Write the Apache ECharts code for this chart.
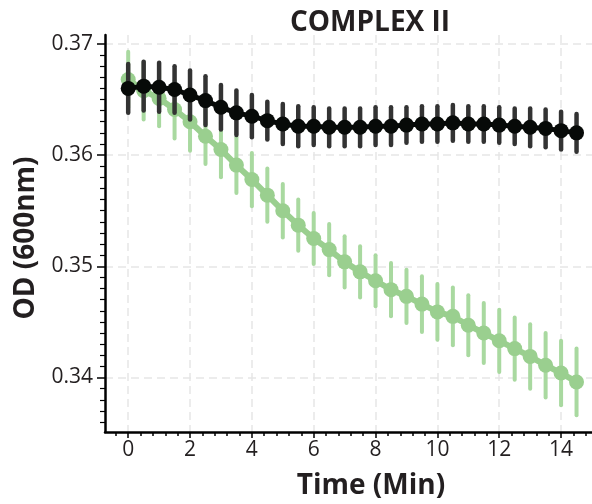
<!DOCTYPE html>
<html>
<head>
<meta charset="utf-8">
<script src="https://cdn.jsdelivr.net/npm/echarts@6/dist/echarts.min.js"></script>
<style>
  html, body { margin: 0; padding: 0; background: #fff; }
  #chart { width: 592px; height: 504px; }
</style>
</head>
<body>
<div id="chart"></div>
<script>
// time points (min)
const times = [0, 0.5, 1, 1.5, 2, 2.5, 3, 3.5, 4, 4.5, 5, 5.5, 6, 6.5, 7,
  7.5, 8, 8.5, 9, 9.5, 10, 10.5, 11, 11.5, 12, 12.5, 13, 13.5, 14, 14.5];

// black series: mean OD and error
const blackMean = [0.3660, 0.3662, 0.3661, 0.3659, 0.3654, 0.3649, 0.3643, 0.3638, 0.3635, 0.3631,
  0.3628, 0.3626, 0.3626, 0.3625, 0.3625, 0.3625, 0.3626, 0.3626, 0.3627, 0.3628,
  0.3628, 0.3629, 0.3628, 0.3628, 0.3627, 0.3626, 0.3625, 0.3624, 0.3622, 0.3620];
const blackErr = [0.0022, 0.0022, 0.0022, 0.0021, 0.0022, 0.0022, 0.0020, 0.0020, 0.0019, 0.0017,
  0.0018, 0.0018, 0.0017, 0.0017, 0.0017, 0.0017, 0.0017, 0.0017, 0.0016, 0.0016,
  0.0016, 0.0016, 0.0016, 0.0016, 0.0016, 0.0016, 0.0017, 0.0017, 0.0017, 0.0017];

// green series: mean OD and error
const greenMean = [0.3668, 0.3658, 0.3651, 0.3641, 0.3630, 0.3617, 0.3605, 0.3591, 0.3578, 0.3564,
  0.3550, 0.3537, 0.3525, 0.3515, 0.3504, 0.3495, 0.3487, 0.3479, 0.3473, 0.3466,
  0.3459, 0.3455, 0.3447, 0.3440, 0.3433, 0.3426, 0.3419, 0.3411, 0.3404, 0.3396];
const greenErr = [0.0025, 0.0026, 0.0025, 0.0026, 0.0026, 0.0025, 0.0025, 0.0025, 0.0024, 0.0024,
  0.0024, 0.0023, 0.0023, 0.0023, 0.0023, 0.0023, 0.0023, 0.0024, 0.0024, 0.0025,
  0.0025, 0.0026, 0.0027, 0.0027, 0.0028, 0.0028, 0.0029, 0.0029, 0.0029, 0.0030];

// tick labels
const xTicks = [0, 2, 4, 6, 8, 10, 12, 14];
const yTicks = [0.34, 0.35, 0.36, 0.37];

const xMinor = [];
for (let v = -0.4; v < 15; v += 0.4) {
  const r = Math.round(v * 10) / 10;
  if (Math.abs(r / 2 - Math.round(r / 2)) > 1e-6) xMinor.push(r);
}
const yMinor = [];
for (let i = 336; i <= 370; i++) {
  if (i % 10 !== 0) yMinor.push(i / 1000);
}

const ink = '#231f20';
const font = '"Open Sans", "Noto Sans", sans-serif';
const xRange = { min: -0.75, max: 15 };
const yRange = { min: 0.3351, max: 0.3708 };

const chart = echarts.init(document.getElementById('chart'));

function errorBars(color, width) {
  return function (params, api) {
    const x = api.value(0), m = api.value(1), e = api.value(2);
    const top = api.coord([x, m + e]);
    const bot = api.coord([x, m - e]);
    return {
      type: 'line',
      shape: { x1: top[0], y1: top[1], x2: bot[0], y2: bot[1] },
      style: { stroke: color, lineWidth: width, lineCap: 'round' }
    };
  };
}

const pairs = (m) => times.map((t, i) => [t, m[i]]);
const triples = (m, e) => times.map((t, i) => [t, m[i], e[i]]);

chart.setOption({
  animation: false,
  grid: { left: 105, right: 0, top: 35, bottom: 72, containLabel: false },
  xAxis: [
    {
      type: 'value', ...xRange,
      axisLine: { show: true, onZero: false, lineStyle: { color: '#000', width: 2.5 } },
      axisTick: { show: true, customValues: xTicks, length: 6, lineStyle: { color: '#000', width: 1.5 } },
      axisLabel: { customValues: xTicks, margin: 8, fontSize: 21, color: ink, fontFamily: font },
      splitLine: { show: true, lineStyle: { color: '#e6e6e6', width: 1.5, type: [8, 5] } }
    },
    {
      type: 'value', ...xRange, position: 'bottom',
      axisLine: { show: false, onZero: false },
      axisTick: { show: true, customValues: xMinor, length: 4, lineStyle: { color: '#000', width: 1.5 } },
      axisLabel: { show: false },
      splitLine: { show: false }
    }
  ],
  yAxis: [
    {
      type: 'value', ...yRange,
      axisLine: { show: true, onZero: false, lineStyle: { color: '#000', width: 2.5 } },
      axisTick: { show: true, customValues: yTicks, length: 8, lineStyle: { color: '#000', width: 1.5 } },
      axisLabel: {
        customValues: yTicks, margin: 12, fontSize: 21, color: ink, fontFamily: font,
        formatter: (v) => v.toFixed(2)
      },
      splitLine: { show: true, lineStyle: { color: '#e6e6e6', width: 1.5, type: [8, 5] } }
    },
    {
      type: 'value', ...yRange, position: 'left',
      axisLine: { show: false, onZero: false },
      axisTick: { show: true, customValues: yMinor, length: 5, lineStyle: { color: '#000', width: 1.2 } },
      axisLabel: { show: false },
      splitLine: { show: false }
    }
  ],
  graphic: [
    {
      type: 'text', x: 370, y: 23, z: 10,
      style: { text: 'COMPLEX II', font: 'bold 28px ' + font, fill: ink, align: 'center', verticalAlign: 'middle' }
    },
    {
      type: 'text', x: 371, y: 486, z: 10,
      style: { text: 'Time (Min)', font: 'bold 28px ' + font, fill: ink, align: 'center', verticalAlign: 'middle' }
    },
    {
      type: 'text', x: 26, y: 238, rotation: Math.PI / 2, z: 10,
      style: { text: 'OD (600nm)', font: 'bold 28px ' + font, fill: ink, align: 'center', verticalAlign: 'middle' }
    }
  ],
  series: [
    {
      type: 'custom', z: 1,
      renderItem: errorBars('#a9d9a0', 4),
      encode: { x: 0, y: 1 },
      data: triples(greenMean, greenErr)
    },
    {
      type: 'line', z: 2,
      data: pairs(greenMean),
      symbol: 'circle', symbolSize: 15, showSymbol: true,
      itemStyle: { color: '#9acf8f' },
      lineStyle: { color: '#9acf8f', width: 6 }
    },
    {
      type: 'custom', z: 3,
      renderItem: errorBars('#333333', 4.5),
      encode: { x: 0, y: 1 },
      data: triples(blackMean, blackErr)
    },
    {
      type: 'line', z: 4,
      data: pairs(blackMean),
      symbol: 'circle', symbolSize: 15, showSymbol: true,
      itemStyle: { color: '#070a08' },
      lineStyle: { color: '#070a08', width: 5 }
    }
  ]
});
</script>
</body>
</html>
